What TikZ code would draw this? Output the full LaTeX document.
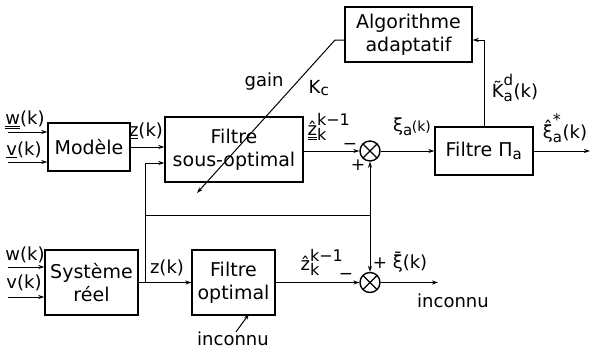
\documentclass[tikz,border=0pt]{standalone}
\usepackage{fontspec}
\setmainfont{DejaVu Sans}
\usetikzlibrary{arrows.meta,calc}
% upright indices in the text font
\newcommand\scr[1]{\hbox{\fontsize{15}{15}\selectfont #1}}
\newcommand\bigscr[1]{\hbox{\fontsize{16}{16}\selectfont #1}}
\begin{document}
\begin{tikzpicture}[x=1pt,y=-1pt,
  blk/.style={draw,line width=1.4pt,align=center,inner sep=0pt,
    font=\fontsize{19}{23}\selectfont},
  lab/.style={inner sep=0pt,font=\fontsize{18}{20}\selectfont},
  sgn/.style={inner sep=0pt,font=\fontsize{17}{17}\selectfont},
  sig/.style={line width=1pt},
  arr/.style={sig,-{Stealth[length=6pt,width=4pt]}},
  sumx/.style={draw,circle,line width=1.4pt,minimum size=20pt,inner sep=0pt,
    path picture={\draw[line width=1.3pt]
      (path picture bounding box.north west) -- (path picture bounding box.south east)
      (path picture bounding box.south west) -- (path picture bounding box.north east);}}]
\useasboundingbox (0,0) rectangle (594,351);

% blocks
\node[blk,minimum width=82pt,minimum height=48pt] (mod) at (89,147) {Modèle};
\node[blk,minimum width=138pt,minimum height=65pt] (fso) at (234,149.5) {Filtre\\sous-optimal};
\node[blk,minimum width=127pt,minimum height=55pt] (alg) at (408.5,34.5) {Algorithme\\adaptatif};
\node[blk,minimum width=98pt,minimum height=48pt] (fpi) at (484,151) {Filtre $\hbox{Π}_{\scr{a}}$};
\node[blk,minimum width=93pt,minimum height=65pt] (sys) at (91.5,282.5) {Système\\réel};
\node[blk,minimum width=83pt,minimum height=65pt] (fop) at (233.5,282.5) {Filtre\\optimal};

% summing junctions
\node[sumx] (s1) at (370,151) {};
\node[sumx] (s2) at (370,282.5) {};

% model branch
\coordinate (wt) at (8,132);
\coordinate (vt) at (8,162);
\draw[arr] (wt) -- (wt -| mod.west);
\draw[arr] (vt) -- (vt -| mod.west);
\draw[arr] (mod.east) -- (mod.east -| fso.west);
\draw[arr] (s1.west -| fso.east) -- (s1.west);
\draw[arr] (s1.east) -- (fpi.west);
\coordinate (out) at (590,151);
\draw[arr] (fpi.east) -- (out);
\coordinate (ain) at ([yshift=-5.5pt]alg.east);
\draw[arr] (fpi.north) |- (ain);

% gain adjustment
\coordinate (gin) at ([yshift=-5.5pt]alg.west);
\coordinate (gk) at (335,40);
\coordinate (gend) at (197,193);
\draw[arr] (gin) -- (gk) -- (gend);

% real system branch
\coordinate (wb) at (8,267);
\coordinate (vb) at (8,297);
\draw[arr] (wb) -- (wb -| sys.west);
\draw[arr] (vb) -- (vb -| sys.west);
\draw[arr] (sys.east) -- (fop.west);
\coordinate (j1) at ($(sys.east)+(7,0)$);
\coordinate (fsoin) at ([yshift=-13.5pt]fso.west);
\draw[arr] (j1) |- (fsoin);
\coordinate (j2) at (j1 |- 0,215);
\coordinate (j3) at (s1 |- 0,215);
\draw[sig] (j2) -- (j3);
\draw[arr] (j3) -- (s1.south);
\draw[arr] (j3) -- (s2.north);
\draw[arr] (fop.east) -- (s2.west);
\coordinate (out2) at (438,282.5);
\draw[arr] (s2.east) -- (out2);

% labels
\node[lab] (lw1) at (25,120) {$\underline{\underline{\hbox{w}}}$(k)};
\node[lab] (lv1) at (24,150) {\underline{v}(k)};
\node[lab] (lz1) at (146,131) {\underline{z}(k)};
\node[lab] (lgain) at (264,82) {gain};
\node[lab] (lkc) at (319,88) {$\hbox{K}_{\scr{c}}$};
\node[lab] (lzh1) at (329,127) {$\underline{\underline{\hbox{ẑ}}}^{\bigscr{k−1}}_{\bigscr{k}}$};
\node[lab] (lxa) at (412,127) {$\hbox{ξ}_{\scr{a}}$\kern-1pt{\fontsize{14}{14}\selectfont(k)}};
\node[lab] (lkt) at (515,88) {$\hbox{K^^^^0303}^{\scr{d}}_{\scr{a}}$(k)};
\node[lab] (lxs) at (565,128) {$\hbox{ξ^^^^0302}^{\bigscr{*}}_{\scr{a}}$(k)};
\node[lab] (lw2) at (25,255) {w(k)};
\node[lab] (lv2) at (24,283) {v(k)};
\node[lab] (lz2) at (167,268) {z(k)};
\node[lab] (lzh2) at (322,262) {$\hbox{ẑ}^{\bigscr{k−1}}_{\bigscr{k}}$};
\node[lab] (lxb) at (410,262) {ξ^^^^0304(k)};
\node[lab] (linc1) at (453,301) {inconnu};
\node[lab] (linc2) at (233,339) {inconnu};
\coordinate (ia) at (249,314);
\draw[arr] ([xshift=3pt]linc2.north) -- (ia);

% signs
\node[sgn] (m1) at (350,146) {−};
\node[sgn] (p1) at (358,165) {+};
\node[sgn] (m2) at (346,276) {−};
\node[sgn] (p2) at (380,263) {+};
\end{tikzpicture}
\end{document}
